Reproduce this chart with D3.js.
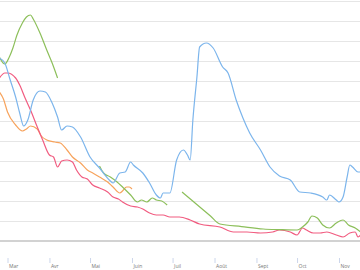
<!DOCTYPE html>
<meta charset="utf-8">
<style>
body{margin:0;background:#fff;}
.grid line{stroke:#e6e6e6;stroke-width:1;}
.baseline{stroke:#a6a6a6;stroke-width:1.2;}
.xaxis text{font-family:"Open Sans",sans-serif;font-size:5px;fill:#777;}
.xaxis line{stroke:#ccd6eb;}
.series{fill:none;stroke-width:1.2;stroke-linejoin:round;}
</style>
<body>
<script src="https://cdn.jsdelivr.net/npm/d3@7"></script>
<script>
// day offsets from 1 March
var blueDays=[-6,-2,2,6,9,12,15,19,24,28,33,37,40,44,48,54,61,68,76,78,83,87,91,93,100,105,110,113,115,120,125,130,133,135,137,140,142,147,152,159,163,169,174,179,187,194,201,209,216,224,233,236,238,243,245,248,251,253,255,259,261];
var blueVals=[91.5,89,80.5,72,64,57.5,60.5,70.5,75,74.5,69,62,55.5,57.5,57,52,42,36.5,30,29,34,34.5,39.5,38,34,29,23,21.5,24,24,40.5,45.5,43,40.5,60.5,82,97,99,96.5,87,84,70.5,61.5,54,45.5,37,32.5,30.5,24.5,24,22,20.5,23,20.5,19.5,22,32,38,37,34.5,34.5];

var greenDays=[-6,-2,1,4,7,11,14,17,19,24,29,33,37,null,68,71,76,81,85,91,96,99,103,107,110,114,118,null,129,136,143,150,157,173,189,201,214,218,222,225,229,233,238,243,248,252,257,261];
var greenVals=[92,88.5,91.5,96.5,103,109,112,113,111,104,95.5,89,81.5,null,37.5,34,32,29.5,27,23,19.5,20.5,19.5,21.5,20.5,20,18,null,24.5,20.5,16.5,12.5,8.5,7.2,6,5.7,5.5,7,9.5,12.5,11.5,8,6.5,9,10.5,8,6.5,4.5];

var pinkDays=[-6,-2,0,6,9,13,17,22,26,31,34,37,40,44,48,51,55,59,63,68,74,78,82,85,91,96,100,105,110,115,120,127,135,142,157,167,177,187,196,201,209,214,218,221,226,231,236,243,248,253,257,259,261];
var pinkVals=[81.5,84,84,81.5,78,71.5,65.5,57,50.5,43,42,37,40,40.5,39.5,35.5,32,31,28,26.5,24.5,22,21,19.5,17.5,17,16,14,13,13,12,12,10.5,8.5,7,4.5,4.5,4,4.5,5.5,4.5,3,6.5,5.5,4,4,4.5,3,2,4,4.5,2,3];

var orangeDays=[-6,-3,0,6,11,14,17,22,25,29,35,39,44,48,54,59,63,68,74,78,83,85,88,90,92];
var orangeVals=[74.5,71,64.5,58,55,56,57.5,56,52.5,50.5,49.5,49,45.5,42,39,35.5,34,32,29.5,27,24,25,27,27,26];

var monthLabels=["Mar","Avr","Mai","Juin","Juil","Août","Sept","Oct","Nov"];

var W=360,H=270;
var start=new Date(2021,2,1);
var x=d3.scaleTime().domain([start,new Date(2021,10,1)]).range([7.5,339]);
var y=d3.scaleLinear().domain([0,120]).range([241,1]);

var svg=d3.select("body").append("svg").attr("width",W).attr("height",H);

svg.append("g").attr("class","grid")
  .selectAll("line").data(y.ticks(12).filter(function(v){return v>0;}))
  .enter().append("line")
  .attr("x1",0).attr("x2",W)
  .attr("y1",function(v){return Math.round(y(v))+0.5;})
  .attr("y2",function(v){return Math.round(y(v))+0.5;});

svg.append("line").attr("class","baseline")
  .attr("x1",0).attr("x2",W).attr("y1",y(0)).attr("y2",y(0));

var months=d3.timeMonth.range(start,new Date(2021,10,2));
var xAxis=svg.append("g").attr("class","xaxis").attr("transform","translate(0,258)")
  .call(d3.axisBottom(x).tickValues(months).tickSize(5)
    .tickFormat(function(d,i){return monthLabels[i];}));
xAxis.select(".domain").remove();
xAxis.selectAll("text").attr("text-anchor","start").attr("dx","1").attr("y",6).attr("dy","0.71em");

function draw(days,vals,color){
  var pts=days.map(function(d,i){return {d:d,v:vals[i]};});
  var line=d3.line()
    .defined(function(p){return p.d!==null&&p.v!==null;})
    .x(function(p){return x(d3.timeDay.offset(start,p.d));})
    .y(function(p){return y(p.v);})
    .curve(d3.curveMonotoneX);
  svg.append("path").attr("class","series").attr("stroke",color).attr("d",line(pts));
}
draw(orangeDays,orangeVals,"#f7a35c");
draw(pinkDays,pinkVals,"#f15c80");
draw(greenDays,greenVals,"#8cbf5a");
draw(blueDays,blueVals,"#7cb5ec");
</script>
</body>
